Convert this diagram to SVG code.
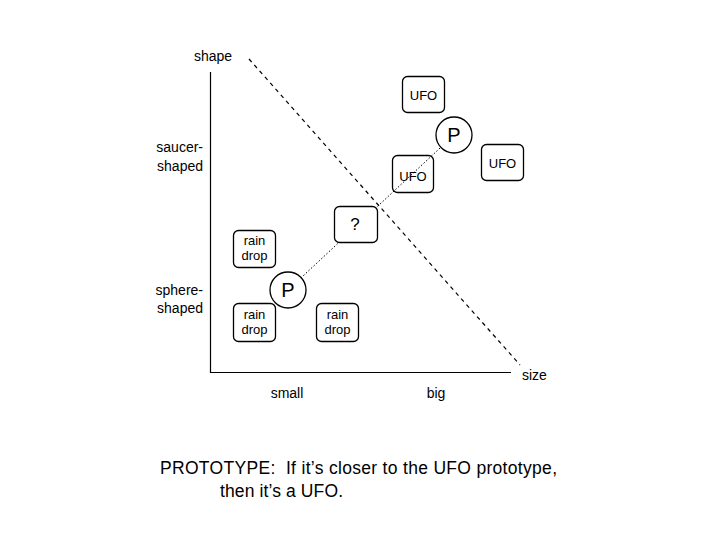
<svg xmlns="http://www.w3.org/2000/svg" width="720" height="540" viewBox="0 0 720 540">
<style>
text{font-family:"Liberation Sans",Arial,sans-serif;fill:#000}
.lbl{font-size:14px}
.box{fill:#fff;stroke:#000;stroke-width:1.3}
.open{fill:none;stroke:#000;stroke-width:1.3}
.bt{font-size:13px;text-anchor:middle}
.p{font-size:20px;text-anchor:middle}
</style>
<rect width="720" height="540" fill="#fff"/>
<g id="axes">
<line x1="210.5" y1="72" x2="210.5" y2="373" stroke="#000" stroke-width="1.2"/>
<line x1="210" y1="372.5" x2="511" y2="372.5" stroke="#000" stroke-width="1.2"/>
<text class="lbl" x="213" y="61" text-anchor="middle">shape</text>
<text class="lbl" x="203" y="152" text-anchor="end">saucer-</text>
<text class="lbl" x="203" y="171" text-anchor="end">shaped</text>
<text class="lbl" x="203" y="295" text-anchor="end">sphere-</text>
<text class="lbl" x="203" y="313" text-anchor="end">shaped</text>
<text class="lbl" x="287" y="398" text-anchor="middle">small</text>
<text class="lbl" x="436" y="398" text-anchor="middle">big</text>
<text class="lbl" x="522" y="380">size</text>
</g>
<g id="connectors">
<line x1="249" y1="59" x2="520" y2="365" stroke="#000" stroke-width="1.2" stroke-dasharray="4,4"/>
<line x1="288" y1="290" x2="454" y2="135" stroke="#000" stroke-width="1" stroke-dasharray="1.5,2"/>
</g>
<g id="ufo1"><rect class="box" x="402.5" y="76.5" width="42" height="36" rx="5"/><text class="bt" x="423.5" y="100">UFO</text></g>
<g id="ufo2"><rect class="box" x="481.5" y="144.5" width="42" height="36" rx="5"/><text class="bt" x="502.5" y="168">UFO</text></g>
<g id="ufo3"><rect class="open" x="392.5" y="155.5" width="41" height="37" rx="5"/><text class="bt" x="413" y="181">UFO</text></g>
<g id="pUfo"><circle cx="454" cy="135" r="18" class="box"/><text class="p" x="454" y="142">P</text></g>
<g id="unknown"><rect class="box" x="334.5" y="206.5" width="43" height="36" rx="5"/><text x="355" y="230" font-size="17" text-anchor="middle">?</text></g>
<g id="rain1"><rect class="box" x="233.5" y="230.5" width="42" height="37" rx="5"/><text class="bt" x="254.5" y="245">rain</text><text class="bt" x="254.5" y="260">drop</text></g>
<g id="rain2"><rect class="box" x="233.5" y="303.5" width="42" height="38" rx="5"/><text class="bt" x="254.5" y="319">rain</text><text class="bt" x="254.5" y="334">drop</text></g>
<g id="rain3"><rect class="box" x="316.5" y="303.5" width="42" height="38" rx="5"/><text class="bt" x="337.5" y="319">rain</text><text class="bt" x="337.5" y="334">drop</text></g>
<g id="pRain"><circle cx="288" cy="290" r="18" class="box"/><text class="p" x="288" y="297">P</text></g>
<g id="caption">
<text x="160" y="474" font-size="17.5" textLength="397" lengthAdjust="spacing" xml:space="preserve">PROTOTYPE:  If it’s closer to the UFO prototype,</text>
<text x="220" y="497" font-size="17.5" textLength="123" lengthAdjust="spacing">then it’s a UFO.</text>
</g>
</svg>
